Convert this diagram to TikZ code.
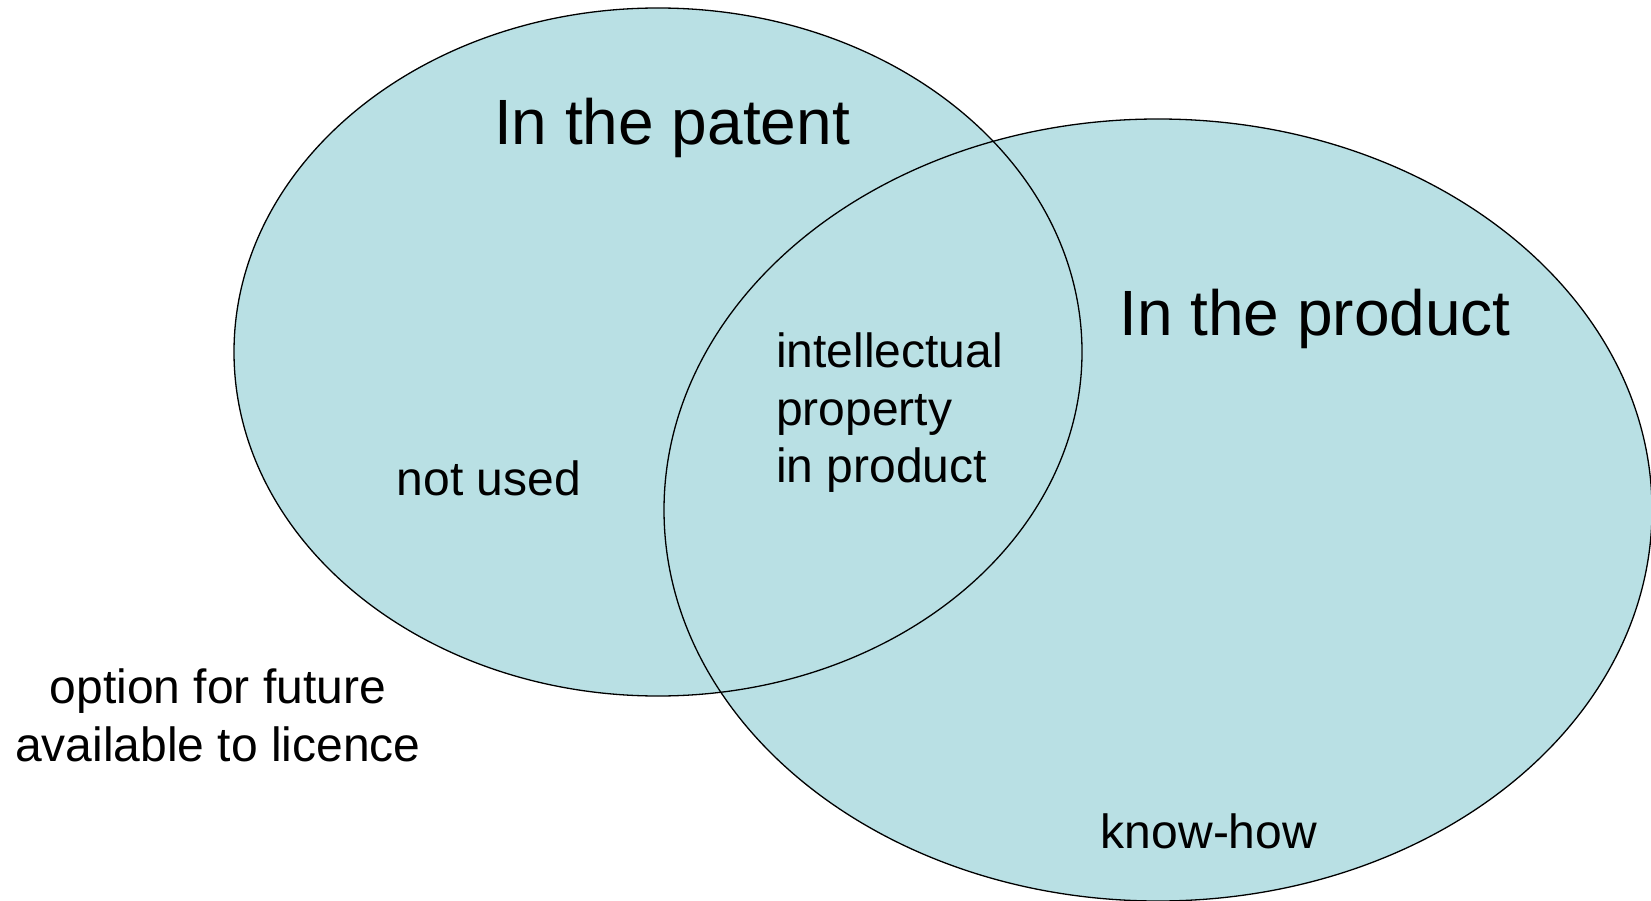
\documentclass[tikz,border=0pt]{standalone}
\usepackage{fontspec}
\setmainfont{Liberation Sans}
\usepackage{xcolor}
\definecolor{vennfill}{RGB}{185,224,228}

\begin{document}
\begin{tikzpicture}[
  x=1pt,y=-1pt,
  setline/.style={draw=black,line width=1.3pt},
  title/.style={font=\fontsize{64}{77}\selectfont,inner sep=0pt},
  txt/.style={font=\fontsize{48}{57.5}\selectfont,inner sep=0pt}]
  \useasboundingbox (0,0) rectangle (1651,901);
  % the two sets
  \fill[vennfill] (658,352) ellipse [x radius=424, y radius=344];
  \fill[vennfill] (1158,510) ellipse [x radius=494, y radius=391];
  \draw[setline] (658,352) ellipse [x radius=424, y radius=344];
  \draw[setline] (1158,510) ellipse [x radius=494, y radius=391];
  % labels
  \node (patent) [title,anchor=base] at (672,145) {In the patent};
  \node (product) [title,anchor=base] at (1315,335) {In the product};
  \node (ip) [txt,align=left,anchor=north west] at (776,333) {intellectual\\property\\in product};
  \node (unused) [txt,anchor=base] at (489,495) {not used};
  \node (option) [txt,align=center,anchor=north] at (218,669) {option for future\\available to licence};
  \node (knowhow) [txt,anchor=base] at (1209,848) {know-how};
\end{tikzpicture}
\end{document}
